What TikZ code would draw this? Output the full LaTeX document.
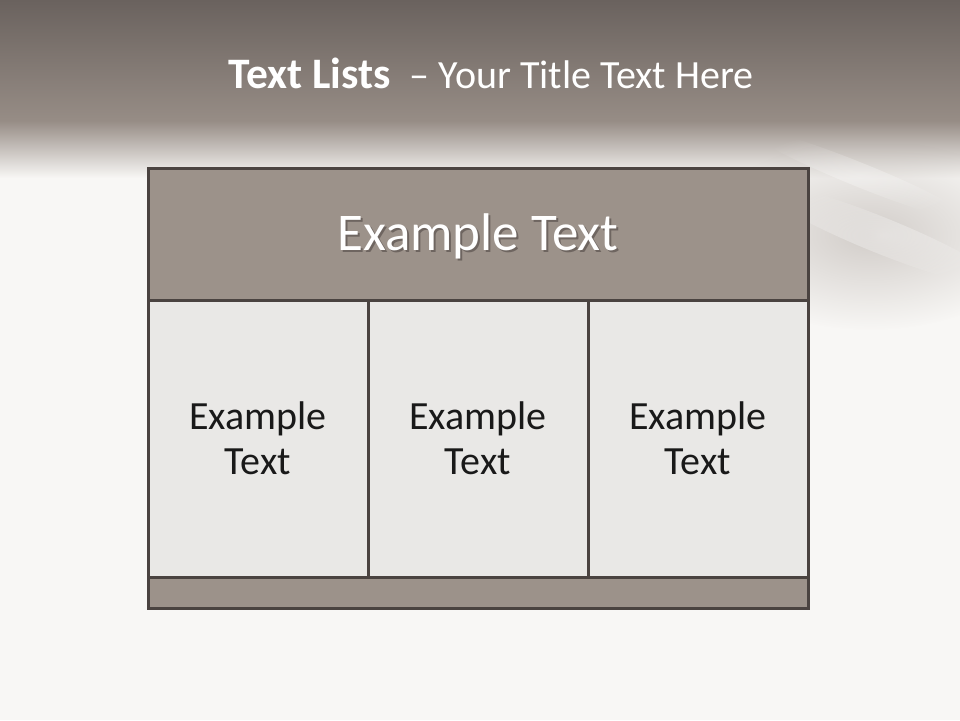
\documentclass[tikz,border=0pt]{standalone}
\usepackage{fontspec}
\setmainfont{Carlito}
\usetikzlibrary{fadings}
\definecolor{bgtop}{HTML}{6A625E}
\definecolor{bgmid}{HTML}{978D86}
\definecolor{bgwhite}{HTML}{F8F7F5}
\definecolor{edgecol}{HTML}{4A4340}
\definecolor{headfill}{HTML}{9C928A}
\definecolor{cellfill}{HTML}{E9E8E6}
\definecolor{streak}{HTML}{BDB6B1}
\definecolor{shadowcol}{HTML}{6E6560}
\tikzfading[name=softglow, inner color=transparent!35, outer color=transparent!100]
\newcommand{\shadowed}[1]{\rlap{\kern2pt\raisebox{-2pt}{\textcolor{shadowcol}{#1}}}#1}
\begin{document}
\begin{tikzpicture}[x=1pt,y=-1pt,
  boxbase/.style={draw=edgecol, line width=3pt, inner sep=0pt, outer sep=0pt},
  headbox/.style={boxbase, fill=headfill},
  cellbox/.style={boxbase, fill=cellfill},
  celltext/.style={font=\fontsize{40}{45}\selectfont, text=black!90, align=center},
  headtext/.style={font=\fontsize{53}{60}\selectfont, text=white}
]
\useasboundingbox (0,0) rectangle (960,720);
% background
\fill[bgwhite] (0,0) rectangle (960,720);
\shade[top color=bgtop, bottom color=bgmid] (0,0) rectangle (960,122);
\shade[top color=bgmid, bottom color=bgwhite] (0,121) rectangle (960,178);
% soft streaks on the right
\fill[streak, path fading=softglow] (870,235) ellipse [x radius=170, y radius=95];
\fill[white, opacity=0.6, path fading=softglow, rotate around={-22:(880,235)}] (880,235) ellipse [x radius=130, y radius=18];
\fill[white, opacity=0.5, path fading=softglow, rotate around={-22:(860,175)}] (860,175) ellipse [x radius=120, y radius=12];
% title
\node[text=white, anchor=base] (title) at (491,88)
  {{\fontsize{43.5}{50}\selectfont\textbf{Text Lists}}\hspace{19pt}{\fontsize{40}{50}\selectfont –\ Your Title Text Here}};
% table
\node[headbox, minimum width=660pt, minimum height=132pt] (head) at (478,234) {};
\node[cellbox, minimum width=220pt, minimum height=277pt] (c1) at (258,438.5) {};
\node[cellbox, minimum width=220pt, minimum height=277pt] (c2) at (478,438.5) {};
\node[cellbox, minimum width=220pt, minimum height=277pt] (c3) at (698,438.5) {};
\node[headbox, minimum width=660pt, minimum height=31pt] (foot) at (478,592.5) {};
% texts
\node[headtext] (headlabel) at ([yshift=-3pt]head.center) {\shadowed{Example Text}};
\node[celltext] (t1) at (c1.center) {Example\\Text};
\node[celltext] (t2) at (c2.center) {Example\\Text};
\node[celltext] (t3) at (c3.center) {Example\\Text};
\end{tikzpicture}
\end{document}
